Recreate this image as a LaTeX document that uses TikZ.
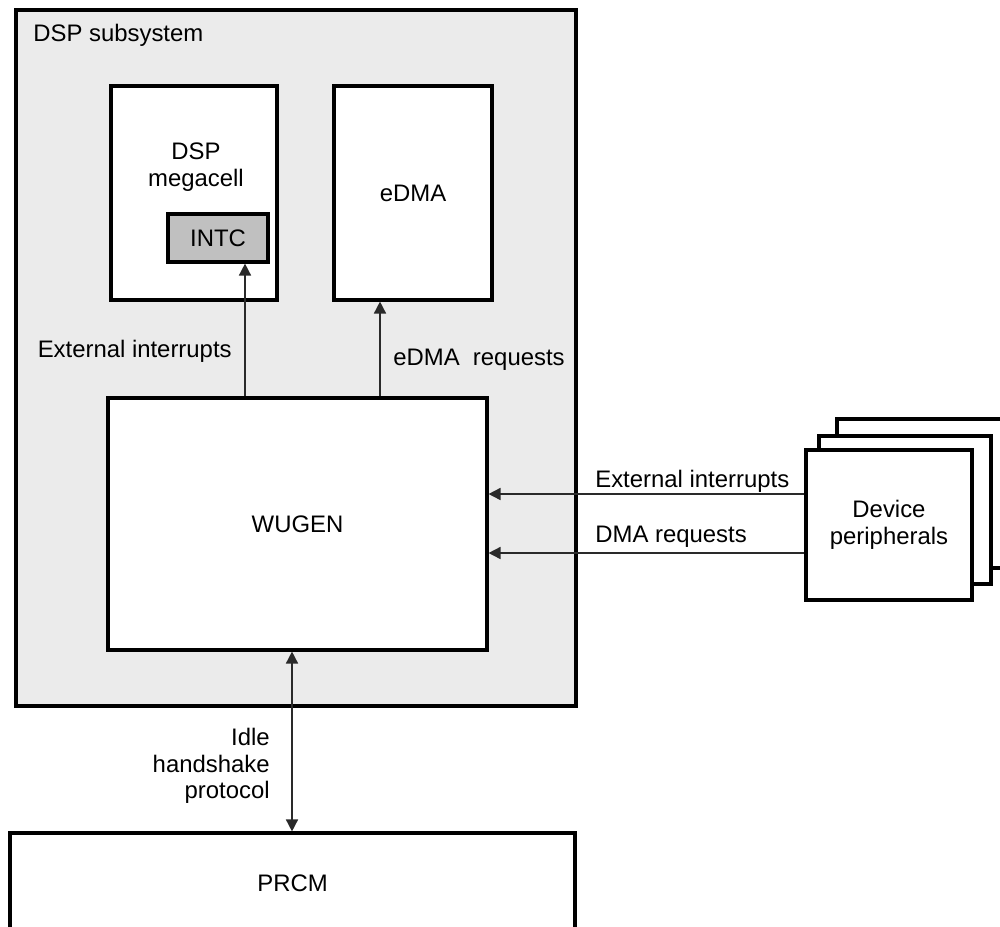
\documentclass[tikz,border=0pt]{standalone}
\usepackage{fontspec}
\setmainfont{Liberation Sans}
\usetikzlibrary{arrows.meta}
\definecolor{subgray}{HTML}{EBEBEB}
\definecolor{intcgray}{HTML}{C0C0C0}
\definecolor{wiregray}{HTML}{2A2A2A}
\begin{document}
\begin{tikzpicture}[x=0.02cm,y=-0.02cm,
    every node/.style={font=\fontsize{13.6}{15.2}\selectfont},
    blk/.style={draw=black,line width=1.8pt,fill=white,rectangle,inner sep=0pt},
    txt/.style={inner sep=0pt},
    sig/.style={draw=wiregray,line width=0.9pt,-{Triangle[length=0.24cm,width=0.24cm]}},
    sigboth/.style={sig,{Triangle[length=0.24cm,width=0.24cm]}-{Triangle[length=0.24cm,width=0.24cm]}}]
    \useasboundingbox (0,0) rectangle (1000,926);
    \clip (0,0) rectangle (1000,926);
    % DSP subsystem frame
    \node[blk,fill=subgray,minimum width=11.2cm,minimum height=13.92cm] (dsp) at (296,358) {};
    \node[txt,anchor=base west] (dsplbl) at (33,42) {DSP subsystem};
    \node[blk,minimum width=3.32cm,minimum height=4.28cm] (mega) at (194,193) {};
    \node[txt,align=center] (megalbl) at (196,167) {DSP\\megacell};
    \node[blk,fill=intcgray,minimum width=2cm,minimum height=0.96cm] (intc) at (218,238) {INTC};
    \node[blk,minimum width=3.16cm,minimum height=4.28cm] (edma) at (413,193) {eDMA};
    \node[blk,minimum width=7.58cm,minimum height=5.04cm] (wugen) at (297.5,524) {WUGEN};
    % device peripherals, back to front
    \node[blk,minimum width=3.46cm,minimum height=2.98cm] (devC) at (923.5,493.5) {};
    \node[blk,minimum width=3.44cm,minimum height=2.96cm] (devB) at (905,510) {};
    \node[blk,minimum width=3.32cm,minimum height=3cm,align=center] (devA) at (889,525) {Device\\peripherals};
    \node[blk,minimum width=11.3cm,minimum height=2cm] (prcm) at (292.5,883) {PRCM};
    % signal positions
    \coordinate (xi) at (245,0);
    \coordinate (xe) at (380,0);
    \coordinate (xh) at (292,0);
    \coordinate (yi) at (0,494);
    \coordinate (yd) at (0,553);
    \draw[sig] (wugen.north -| xi) -- (intc.south -| xi);
    \draw[sig] (wugen.north -| xe) -- (edma.south -| xe);
    \draw[sig] (devA.west |- yi) -- (wugen.east |- yi);
    \draw[sig] (devA.west |- yd) -- (wugen.east |- yd);
    \draw[sigboth] (wugen.south -| xh) -- (prcm.north -| xh);
    \node[txt,anchor=base east] (intlbl) at (232,357) {External interrupts};
    \node[txt,anchor=base west] (reqlbl) at (393,365) {eDMA\ \ requests};
    \node[txt,anchor=base west] (extlbl) at (595,487) {External interrupts};
    \node[txt,anchor=base west] (dmalbl) at (595,542) {DMA requests};
    \node[txt,anchor=east,align=right] (idlelbl) at (270,766) {Idle\\handshake\\protocol};
\end{tikzpicture}
\end{document}
